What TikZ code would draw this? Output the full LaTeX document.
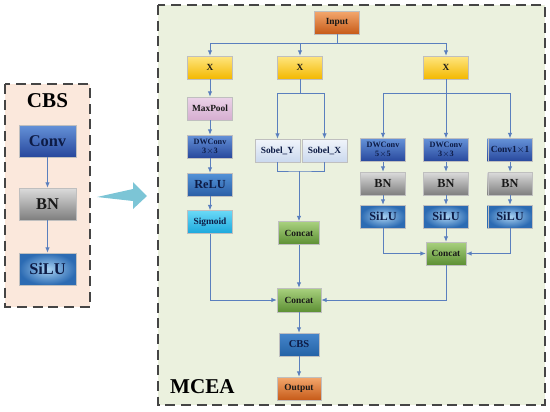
\documentclass[tikz,border=0pt]{standalone}
\usepackage{fontspec}
\setmainfont{Liberation Serif}
\usepackage{tikz}
\usetikzlibrary{arrows.meta, positioning}
\definecolor{lnblue}{HTML}{5A7FBE}
\definecolor{navytxt}{HTML}{0D1B45}
\definecolor{framegray}{HTML}{454545}
\definecolor{orangeT}{HTML}{F4A86E}
\definecolor{orangeB}{HTML}{C65A18}
\definecolor{yellowT}{HTML}{FFE680}
\definecolor{yellowB}{HTML}{F3B800}
\definecolor{pinkT}{HTML}{EBD3E8}
\definecolor{pinkB}{HTML}{D6AED1}
\definecolor{dwT}{HTML}{6592D8}
\definecolor{dwB}{HTML}{27479C}
\definecolor{reluT}{HTML}{5393D8}
\definecolor{reluB}{HTML}{2B5EA6}
\definecolor{sigT}{HTML}{6AD9F7}
\definecolor{sigB}{HTML}{1BA8DC}
\definecolor{sobT}{HTML}{F1F5FB}
\definecolor{sobB}{HTML}{CAD8EE}
\definecolor{catT}{HTML}{A9D17F}
\definecolor{catB}{HTML}{5C8F33}
\definecolor{cbsT}{HTML}{4586CB}
\definecolor{cbsB}{HTML}{2462A6}
\definecolor{bnT}{HTML}{DCDCDC}
\definecolor{bnB}{HTML}{7E7E7E}
\definecolor{siluI}{HTML}{A9D2F2}
\definecolor{siluO}{HTML}{2C6BB3}
\tikzset{
    box/.style = {rectangle, minimum width=13.4mm, minimum height=6.9mm, inner sep=0pt, align=center, text=black!90, draw=black!25, line width=0.3pt, font=\bfseries\fontsize{8}{8}\selectfont},
    inbox/.style = {box, top color=orangeT, bottom color=orangeB},
    xbox/.style = {box, top color=yellowT, bottom color=yellowB},
    poolbox/.style = {box, top color=pinkT, bottom color=pinkB},
    dwbox/.style = {box, text=navytxt, top color=dwT, bottom color=dwB, font=\bfseries\fontsize{7}{8}\selectfont},
    relubox/.style = {box, text=navytxt, top color=reluT, bottom color=reluB, font=\bfseries\fontsize{10.5}{10.5}\selectfont},
    sigbox/.style = {box, text=navytxt, top color=sigT, bottom color=sigB},
    sobbox/.style = {box, text=navytxt, top color=sobT, bottom color=sobB},
    catbox/.style = {box, top color=catT, bottom color=catB, minimum width=12.4mm},
    cbsbox/.style = {box, text=navytxt, top color=cbsT, bottom color=cbsB, font=\bfseries\fontsize{9}{9}\selectfont},
    bnbox/.style = {box, top color=bnT, bottom color=bnB, font=\bfseries\fontsize{10.5}{10.5}\selectfont},
    silubox/.style = {box, text=navytxt, inner color=siluI, outer color=siluO, font=\bfseries\fontsize{10.5}{10.5}\selectfont},
    bigbox/.style = {minimum width=17.1mm, minimum height=9.6mm, font=\bfseries\fontsize{14}{14}\selectfont},
    ln/.style = {draw=lnblue, line width=0.8pt},
    arr/.style = {ln, -{Latex[length=1.6mm,width=1.3mm]}}
}
\begin{document}
\begin{tikzpicture}[x=0.3mm, y=-0.3mm]
    \useasboundingbox (0,0) rectangle (550,411);

    % Frames
    \draw[fill={rgb,255:red,251;green,232;blue,220}, draw=framegray, line width=1.3pt, dash pattern=on 3mm off 1.7mm] (5,84) rectangle (90,307);
    \draw[fill={rgb,255:red,235;green,241;blue,222}, draw=framegray, line width=1.3pt, dash pattern=on 3mm off 1.7mm] (158,5) rectangle (545,405);

    % Left CBS block
    \node[font=\bfseries\fontsize{18}{18}\selectfont] (cbsTitle) at (47.5,101) {CBS};
    \node[dwbox, bigbox] (conv) at (47.5,141) {Conv};
    \node[bnbox, bigbox] (bn) at (47.5,204) {BN};
    \node[silubox, bigbox] (silu) at (47.5,269) {SiLU};
    \draw[arr] (conv) -- (bn);
    \draw[arr] (bn) -- (silu);

    % Big arrow
    \fill[fill={rgb,255:red,124;green,197;blue,214}] (97,197) -- (133,189) -- (133,182) -- (147,196) -- (133,209) -- (133,201) -- cycle;

    % MCEA block
    \node[inbox] (input) at (337,22.5) {Input};
    \node[xbox] (x1) at (210,67.5) {X};
    \node[xbox] (x2) at (300,67.5) {X};
    \node[xbox] (x3) at (446,67.5) {X};

    % Branch 1
    \node[poolbox] (pool) at (210,108.5) {MaxPool};
    \node[dwbox] (dwA) at (210,146.5) {DWConv\\3$\times$3};
    \node[relubox] (relu) at (210,184.5) {ReLU};
    \node[sigbox] (sigm) at (210,222) {Sigmoid};

    % Branch 2
    \node[sobbox] (sobY) at (277.5,150.5) {Sobel\_Y};
    \node[sobbox] (sobX) at (324.5,150.5) {Sobel\_X};
    \node[catbox] (catS) at (299,233) {Concat};

    % Branch 3
    \node[dwbox] (dwB) at (383,150) {DWConv\\5$\times$5};
    \node[dwbox] (dwC) at (446,150) {DWConv\\3$\times$3};
    \node[dwbox, font=\bfseries\fontsize{8}{8}\selectfont] (convB) at (510,150) {Conv1$\times$1};
    \node[bnbox] (bnA) at (383,183.5) {BN};
    \node[bnbox] (bnB) at (446,183.5) {BN};
    \node[bnbox] (bnC) at (510,183.5) {BN};
    \node[silubox] (siluA) at (383,216.5) {SiLU};
    \node[silubox] (siluB) at (446,216.5) {SiLU};
    \node[silubox] (siluC) at (510,216.5) {SiLU};
    \node[catbox, minimum width=12mm] (catR) at (446,253.5) {Concat};

    % Merge
    \node[catbox, minimum width=13.2mm, minimum height=7.2mm] (catM) at (299,300) {Concat};
    \node[cbsbox, minimum width=12mm] (cbsM) at (299,344.5) {CBS};
    \node[inbox, minimum width=13.2mm] (output) at (299,388.5) {Output};
    \node[font=\bfseries\fontsize{18}{18}\selectfont, anchor=west] (mcea) at (166,387) {MCEA};

    % Splits
    \coordinate (spIn) at (337,43);
    \coordinate (spX) at (300,93);
    \coordinate (spS) at (299,171);
    \coordinate (spR) at (446,93);

    % Connectors
    \draw[ln] (input) -- (spIn);
    \draw[arr] (spIn) -| (x1);
    \draw[arr] (spIn) -| (x3);
    \draw[arr] (x2 |- spIn) -- (x2);

    \draw[arr] (x1) -- (pool);
    \draw[arr] (pool) -- (dwA);
    \draw[arr] (dwA) -- (relu);
    \draw[arr] (relu) -- (sigm);
    \draw[arr] (sigm) |- (catM);

    \draw[ln] (x2) -- (spX);
    \draw[arr] (spX) -| (sobY);
    \draw[arr] (spX) -| (sobX);
    \draw[ln] (sobY) |- (spS) -| (sobX);
    \draw[arr] (spS) -- (catS);
    \draw[arr] (catS) -- (catM);

    \draw[ln] (x3) -- (spR);
    \draw[arr] (spR) -| (dwB);
    \draw[arr] (spR) -| (convB);
    \draw[arr] (spR) -- (dwC);
    \draw[arr] (dwB) -- (bnA);
    \draw[arr] (dwC) -- (bnB);
    \draw[arr] (convB) -- (bnC);
    \draw[arr] (bnA) -- (siluA);
    \draw[arr] (bnB) -- (siluB);
    \draw[arr] (bnC) -- (siluC);
    \draw[arr] (siluA) |- (catR);
    \draw[arr] (siluC) |- (catR);
    \draw[arr] (siluB) -- (catR);
    \draw[arr] (catR) |- (catM);

    \draw[arr] (catM) -- (cbsM);
    \draw[arr] (cbsM) -- (output);
\end{tikzpicture}
\end{document}
